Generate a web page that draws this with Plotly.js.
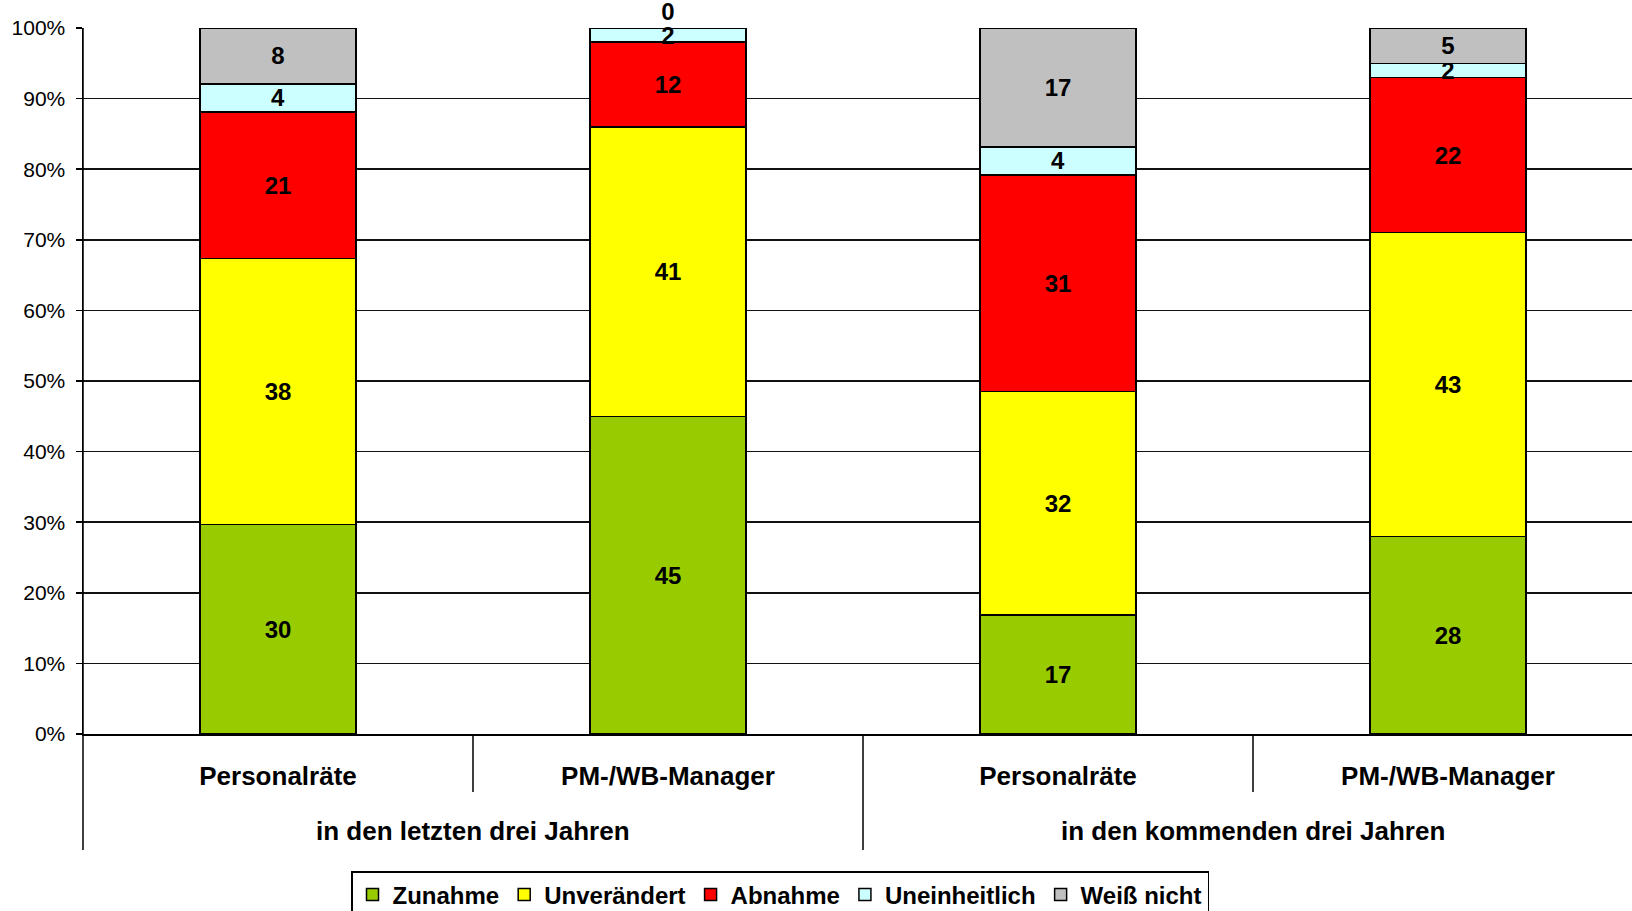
<!DOCTYPE html>
<html>
<head>
<meta charset="utf-8">
<script src="https://cdn.plot.ly/plotly-3.0.1.min.js"></script>
<style>
  html, body { margin: 0; padding: 0; background: #fff; }
  #chart { width: 1632px; height: 911px; }
</style>
</head>
<body>
<div id="chart"></div>
<script>
// ---- data ----
const categories = ['Personalräte', 'PM-/WB-Manager', 'Personalräte', 'PM-/WB-Manager'];
const groups = ['in den letzten drei Jahren', 'in den kommenden drei Jahren'];
const groupOfCategory = [0, 0, 1, 1];
const seriesNames = ['Zunahme', 'Unverändert', 'Abnahme', 'Uneinheitlich', 'Weiß nicht'];
const zunahme = [30, 45, 17, 28];
const unveraendert = [38, 41, 32, 43];
const abnahme = [21, 12, 31, 22];
const uneinheitlich = [4, 2, 4, 2];
const weissNicht = [8, 0, 17, 5];
const yTicks = [0, 10, 20, 30, 40, 50, 60, 70, 80, 90, 100];

// ---- styles ----
const FONT = 'Liberation Sans, Arial, sans-serif';
const colors = ['#99CC00', '#FFFF00', '#FF0000', '#CCFFFF', '#C0C0C0'];
const seriesValues = [zunahme, unveraendert, abnahme, uneinheitlich, weissNicht];
const xIdx = categories.map((_, i) => i);

const traces = seriesValues.map((vals, s) => ({
  type: 'bar',
  name: seriesNames[s],
  x: xIdx,
  y: vals,
  text: vals.map(String),
  texttemplate: '%{text}',
  textposition: vals.map(v => (s === seriesValues.length - 1 && v === 0) ? 'outside' : 'inside'),
  insidetextanchor: 'middle',
  textangle: 0,
  constraintext: 'none',
  cliponaxis: false,
  textfont: { family: FONT, size: 24, color: '#000', weight: 'bold' },
  outsidetextfont: { family: FONT, size: 24, color: '#000', weight: 'bold' },
  marker: { color: colors[s], line: { color: '#000', width: 1.5 } },
  hoverinfo: 'skip'
}));

// plot geometry in px
const W = 1632, H = 911;
const mL = 83, mT = 28, mB = 177, mR = 0;
const plotH = H - mT - mB;           // 706
const plotW = W - mL - mR;           // 1549
const catW = 390;                    // px per category
const toPaperY = py => (H - mB - py) / plotH;  // py: pixel from top

const shapes = [];
// left border extending below axis
shapes.push({ type: 'line', xref: 'paper', yref: 'paper', x0: 0, x1: 0, y0: 1, y1: toPaperY(850),
  line: { color: '#000', width: 1.5 } });
// separators between categories
for (let i = 0; i < categories.length - 1; i++) {
  const sameGroup = groupOfCategory[i] === groupOfCategory[i + 1];
  shapes.push({ type: 'line', xref: 'x', yref: 'paper', x0: i + 0.5, x1: i + 0.5,
    y0: 0, y1: toPaperY(sameGroup ? 792 : 850), line: { color: '#000', width: 1.5 } });
}

const annotations = groups.map((g, gi) => {
  const idx = xIdx.filter(i => groupOfCategory[i] === gi);
  const center = (Math.min(...idx) + Math.max(...idx)) / 2;
  return { xref: 'x', yref: 'paper', x: center, y: toPaperY(831), text: g, showarrow: false,
    xanchor: 'center', yanchor: 'middle',
    font: { family: FONT, size: 26, color: '#000', weight: 'bold' } };
});

const layout = {
  width: W, height: H,
  margin: { l: mL, r: mR, t: mT, b: mB, autoexpand: false },
  paper_bgcolor: '#fff', plot_bgcolor: '#fff',
  barmode: 'stack', barnorm: 'percent', bargap: 0.6,
  showlegend: true,
  legend: {
    orientation: 'h', xref: 'paper', yref: 'paper',
    x: (780 - mL) / plotW, xanchor: 'center',
    y: toPaperY(871), yanchor: 'top',
    bordercolor: '#000', borderwidth: 1.5, bgcolor: '#fff',
    font: { family: FONT, size: 24, color: '#000', weight: 'bold' },
    itemwidth: 30, tracegroupgap: 0, traceorder: 'normal'
  },
  xaxis: {
    range: [-0.5, -0.5 + plotW / catW],
    tickmode: 'array', tickvals: xIdx, ticktext: categories,
    ticks: '', showgrid: false, zeroline: false,
    showline: true, linecolor: '#000', linewidth: 1.5,
    tickfont: { family: FONT, size: 26, color: '#000', weight: 'bold' },
    ticklabelstandoff: 18,
    fixedrange: true
  },
  yaxis: {
    range: [0, 100],
    tickmode: 'array', tickvals: yTicks, ticktext: yTicks.map(v => v + '%'),
    ticks: 'outside', ticklen: 6, tickcolor: '#000', tickwidth: 1.5,
    showgrid: true, gridcolor: '#111', gridwidth: 1.6,
    zeroline: false, showline: true, linecolor: '#000', linewidth: 1.5,
    tickfont: { family: FONT, size: 21, color: '#000' },
    ticklabelstandoff: 6,
    fixedrange: true
  },
  shapes: shapes,
  annotations: annotations
};

Plotly.newPlot('chart', traces, layout, { staticPlot: true, displayModeBar: false });
</script>
</body>
</html>
